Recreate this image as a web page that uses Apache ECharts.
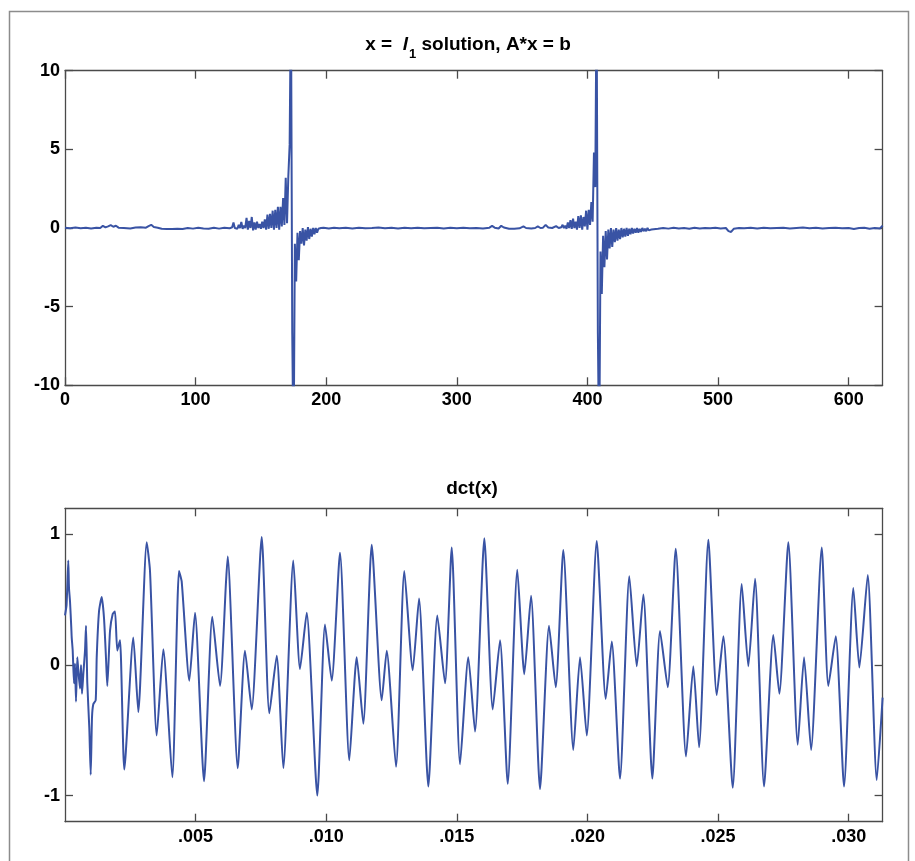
<!DOCTYPE html>
<html><head><meta charset="utf-8">
<script src="https://cdn.jsdelivr.net/npm/echarts@6/dist/echarts.min.js"></script>
<style>html,body{margin:0;padding:0;background:#fff;}#c{width:915px;height:861px;}</style>
</head><body><div id="c"></div>
<script>
// ---- top plot: x = l1 solution (sample index, value) ----
const topIdx = [0,4,8,12,16,20,24,27,29,31,33,35,37,39,41,45,50,54,58,62,64,66,68,71,74,78,82,86,90,94,98,102,106,110,114,118,122,126,
128,129,130,131,132,133,134,135,136,137,138,139,140,141,142,143,144,145,146,147,148,149,150,151,152,153,154,155,156,157,158,159,160,161,162,163,164,165,166,167,168,169,170,171,172,173,174,175,176,177,178,179,180,181,182,183,184,185,186,187,188,189,190,191,192,193,194,195,196,197,198,
202,206,210,215,220,225,230,235,240,245,250,255,260,265,270,275,280,285,290,295,300,305,310,315,320,325,327,329,332,334,336,340,344,348,351,353,357,360,362,364,366,368,370,373,376,378,
380,381,382,383,384,385,386,387,388,389,390,391,392,393,394,395,396,397,398,399,400,401,402,403,404,405,406,407,408,409,410,411,412,413,414,415,416,417,418,419,420,421,422,423,424,425,426,427,428,429,430,431,432,433,434,435,436,437,438,439,440,441,442,443,444,445,446,447,448,449,450,
454,458,462,466,470,474,478,482,486,490,494,498,502,506,508,510,512,516,520,525,530,535,540,545,550,555,560,565,570,575,580,585,590,595,600,604,608,612,616,620,624,626];
const topVal = [0.02,-0.02,0.03,-0.01,0.02,-0.03,0.02,0.0,0.14,0.04,0.1,0.18,0.08,0.14,0.02,0.0,-0.03,0.03,0.05,0.02,0.12,0.2,0.06,0.02,-0.05,-0.07,-0.06,-0.04,-0.06,0.0,-0.04,0.02,-0.03,-0.05,0.01,-0.04,0.02,-0.02,
0.05,0.35,0.0,0.12,-0.05,0.2,0.0,0.38,-0.05,0.15,0.0,0.65,-0.1,0.45,0.0,0.7,-0.15,0.35,-0.1,0.4,0.0,0.25,-0.05,0.4,0.0,0.55,-0.1,0.85,-0.05,0.9,0.0,1.1,-0.1,1.15,0.0,1.35,-0.1,1.35,0.1,1.9,0.2,3.2,0.3,3.3,5.3,15,-6.7,-15,-1.0,-3.4,-0.3,-2.05,-0.2,-1.0,0.0,-1.1,-0.1,-0.8,0.05,-0.7,-0.05,-0.55,0.0,-0.4,0.0,-0.3,-0.05,-0.15,0.0,-0.1,0.02,
-0.03,0.02,-0.02,0.01,-0.03,0.02,-0.02,0.0,0.03,-0.02,0.01,-0.03,0.02,-0.01,0.02,-0.02,0.0,0.02,-0.03,0.01,-0.02,0.02,-0.01,0.0,-0.03,0.02,0.13,0.02,-0.03,0.14,0.03,-0.05,-0.04,-0.02,0.1,0.0,-0.03,0.0,0.1,0.0,0.02,0.2,0.03,0.0,0.12,0.0,
0.05,0.2,0.0,0.15,-0.05,0.35,0.0,0.5,-0.05,0.6,0.0,0.4,-0.1,0.75,0.0,0.8,-0.1,0.7,0.1,1.1,-0.1,1.15,0.2,1.65,0.4,4.8,2.6,15,-6.7,-15,-1.5,-4.2,-0.5,-2.5,-0.2,-2.0,-0.1,-1.3,0.0,-1.2,-0.1,-0.9,0.0,-0.8,-0.1,-0.7,0.0,-0.6,-0.05,-0.55,0.0,-0.5,-0.05,-0.4,0.0,-0.35,-0.05,-0.3,0.0,-0.3,-0.05,-0.25,0.0,-0.2,-0.05,-0.2,0.0,-0.15,-0.05,-0.1,0.0,
-0.05,0.0,-0.04,0.02,-0.03,0.0,-0.05,0.02,-0.03,0.0,-0.02,0.02,-0.03,0.0,-0.2,-0.25,-0.05,0.0,-0.02,0.02,-0.03,0.02,-0.02,0.0,0.02,-0.03,0.0,0.03,-0.02,0.02,-0.03,0.0,0.02,-0.02,0.0,-0.06,0.0,0.02,-0.05,0.0,-0.03,0.15];

// ---- bottom plot: dct(x) (seconds, value) ----
const dctT = [0,0.00006,0.000126,0.000153,0.000191,0.00024,0.000257,0.000295,0.000345,0.000383,0.000421,0.000471,0.000509,0.000574,0.000613,0.000651,0.000701,0.000766,0.000804,0.000854,0.00093,0.000984,0.001034,0.001083,0.001175,0.001214,0.001302,0.001405,0.001493,0.00157,0.001619,0.001723,0.001826,0.001914,0.002002,0.002106,0.00227,0.002615,0.002806,0.003128,0.003254,0.003511,0.003763,0.004108,0.004364,0.004467,0.004759,0.004977,0.005322,0.005639,0.005934,0.006165,0.006229,0.006612,0.006891,0.007148,0.007531,0.007822,0.008105,0.008358,0.00874,0.008997,0.009253,0.009659,0.009954,0.01021,0.010528,0.010884,0.011168,0.01142,0.011742,0.012125,0.012316,0.012672,0.01299,0.013312,0.013553,0.013909,0.014254,0.014548,0.014805,0.015123,0.01544,0.015697,0.016053,0.016374,0.016654,0.016949,0.017316,0.017584,0.017841,0.018185,0.01853,0.018786,0.019077,0.01946,0.019717,0.019973,0.020356,0.020701,0.020931,0.021248,0.021604,0.021888,0.02214,0.022485,0.02278,0.023074,0.023381,0.023775,0.024054,0.024273,0.024629,0.02495,0.025203,0.025563,0.025907,0.02616,0.026417,0.026761,0.027117,0.027347,0.027692,0.028052,0.028293,0.028561,0.02897,0.029223,0.029506,0.029824,0.03018,0.03041,0.030731,0.031076,0.0313];
const dctVal = [0.38,0.46,0.80,0.59,0.49,0.29,0.21,0.11,-0.14,0.01,-0.28,0.06,-0.04,-0.18,0.0,-0.22,-0.07,0.11,0.30,-0.14,-0.48,-0.84,-0.40,-0.30,-0.27,0.06,0.41,0.52,0.36,0.05,-0.16,0.26,0.39,0.41,0.11,0.19,-0.80,0.21,-0.36,0.94,0.72,-0.54,0.12,-0.86,0.72,0.64,-0.12,0.40,-0.89,0.37,-0.16,0.64,0.83,-0.79,0.11,-0.34,0.98,-0.37,0.07,-0.79,0.80,-0.03,0.40,-1.00,0.31,-0.12,0.86,-0.73,0.06,-0.45,0.92,-0.27,0.11,-0.78,0.72,-0.04,0.51,-0.93,0.38,-0.14,0.90,-0.76,0.06,-0.51,0.97,-0.34,0.19,-0.91,0.73,-0.07,0.53,-0.95,0.30,-0.17,0.88,-0.65,0.06,-0.54,0.95,-0.26,0.18,-0.87,0.68,-0.01,0.54,-0.87,0.26,-0.17,0.89,-0.70,-0.01,-0.63,0.96,-0.23,0.22,-0.94,0.62,-0.01,0.66,-0.93,0.23,-0.22,0.94,-0.61,0.06,-0.65,0.90,-0.16,0.22,-0.93,0.59,-0.02,0.69,-0.88,-0.25];

const topXTicks = [0,100,200,300,400,500,600];
const topYTicks = [-10,-5,0,5,10];
const botXTicks = [0.005,0.010,0.015,0.020,0.025,0.030];
const botYTicks = [-1,0,1];
const topTitle = ['x =  ', 'l', '1', ' solution, A*x = b'];
const botTitle = 'dct(x)';

const FONT = '"Liberation Sans", Arial, Helvetica, sans-serif';
const AX = '#4a4a4a';
const LINE = '#3953a4';

const topData = topIdx.map((v, i) => [v, topVal[i]]);
const botData = dctT.map((v, i) => [v, dctVal[i]]);

function xAx(grid, min, max, ticks, pos, showLabel, fmt) {
  return {
    type: 'value', gridIndex: grid, min, max, position: pos,
    axisLine: { show: true, onZero: false, lineStyle: { color: AX, width: 1.3 } },
    axisTick: { show: true, inside: true, length: 8, customValues: ticks, lineStyle: { color: AX, width: 1.3 } },
    axisLabel: { show: showLabel, customValues: ticks, margin: 6, color: '#000', fontFamily: FONT, fontWeight: 'bold', fontSize: 18, formatter: fmt },
    splitLine: { show: false }
  };
}
function yAx(grid, min, max, ticks, pos, showLabel) {
  return {
    type: 'value', gridIndex: grid, min, max, position: pos,
    axisLine: { show: true, onZero: false, lineStyle: { color: AX, width: 1.3 } },
    axisTick: { show: true, inside: true, length: 8, customValues: ticks, lineStyle: { color: AX, width: 1.3 } },
    axisLabel: { show: showLabel, customValues: ticks, margin: 5, color: '#000', fontFamily: FONT, fontWeight: 'bold', fontSize: 18 },
    splitLine: { show: false }
  };
}
const botFmt = v => v.toFixed(3).replace(/^0/, '');

const chart = echarts.init(document.getElementById('c'), null, { renderer: 'canvas' });
chart.setOption({
  animation: false,
  backgroundColor: '#fff',
  grid: [
    { left: 65, top: 70.7, right: 32.4, height: 314.6 },
    { left: 65, top: 508.3, right: 32.4, height: 313.4 }
  ],
  xAxis: [
    xAx(0, 0, 626, topXTicks, 'bottom', true),
    xAx(0, 0, 626, topXTicks, 'top', false),
    xAx(1, 0, 0.0313, botXTicks, 'bottom', true, botFmt),
    xAx(1, 0, 0.0313, botXTicks, 'top', false, botFmt)
  ],
  yAxis: [
    yAx(0, -10, 10, topYTicks, 'left', true),
    yAx(0, -10, 10, topYTicks, 'right', false),
    yAx(1, -1.2, 1.2, botYTicks, 'left', true),
    yAx(1, -1.2, 1.2, botYTicks, 'right', false)
  ],
  series: [
    { type: 'line', xAxisIndex: 0, yAxisIndex: 0, data: topData, showSymbol: false, clip: true,
      lineStyle: { color: LINE, width: 2 }, silent: true },
    { type: 'line', xAxisIndex: 2, yAxisIndex: 2, data: botData, showSymbol: false, clip: true, smooth: 0.2,
      lineStyle: { color: LINE, width: 2 }, silent: true }
  ],
  graphic: [
    { type: 'polyline', shape: { points: [[9.5, 870], [9.5, 11.5], [908.5, 11.5], [908.5, 870]] },
      style: { stroke: '#8c8c8c', lineWidth: 1.5, fill: null }, silent: true },
    { type: 'text', x: 468, y: 45, silent: true,
      style: {
        text: '{a|' + topTitle[0] + '}{i|' + topTitle[1] + '}{s|' + topTitle[2] + '}{a|' + topTitle[3] + '}',
        align: 'center', verticalAlign: 'middle', textAlign: 'center', textVerticalAlign: 'middle',
        rich: {
          a: { fontFamily: FONT, fontWeight: 'bold', fontSize: 19, lineHeight: 19, verticalAlign: 'top', fill: '#000' },
          i: { fontFamily: FONT, fontWeight: 'bold', fontStyle: 'italic', fontSize: 19, lineHeight: 19, verticalAlign: 'top', fill: '#000' },
          s: { fontFamily: FONT, fontWeight: 'bold', fontSize: 13, lineHeight: 13, padding: [12, 0, 0, 1], verticalAlign: 'top', fill: '#000' }
        }
      } },
    { type: 'text', x: 472, y: 489, silent: true,
      style: { text: botTitle, fontFamily: FONT, fontWeight: 'bold', fontSize: 19, fill: '#000',
        align: 'center', verticalAlign: 'middle', textAlign: 'center', textVerticalAlign: 'middle' } }
  ]
});
</script></body></html>
